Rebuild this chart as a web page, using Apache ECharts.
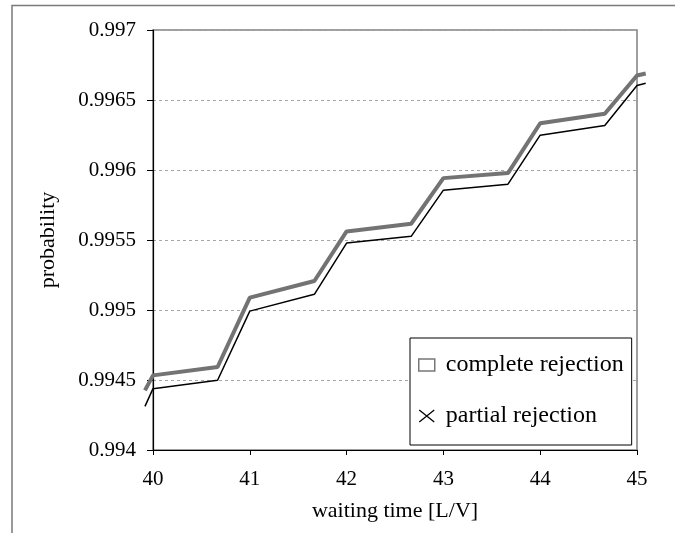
<!DOCTYPE html>
<html>
<head>
<meta charset="UTF-8"/>
<title>probability vs waiting time</title>
<script src="https://cdn.jsdelivr.net/npm/echarts@6/dist/echarts.min.js"></script>
<style>
  html, body { margin: 0; padding: 0; background: #fff; }
  #chart { width: 675px; height: 533px; }
</style>
</head>
<body>
<div id="chart"></div>
<script type="text/javascript">
// waiting time [L/V]; first and last points are where the lines leave the frame
var waitTimes = [39.917, 40, 40.667, 41, 41.667, 42, 42.667, 43, 43.667, 44, 44.667, 45, 45.09];
var completeRejection = [0.994426, 0.994533, 0.994593, 0.995088, 0.995207, 0.995561, 0.995616,
                         0.995942, 0.995978, 0.996334, 0.996402, 0.996675, 0.996689];
var partialRejection = [0.994312, 0.994438, 0.994498, 0.994992, 0.995112, 0.995478, 0.995526,
                        0.995856, 0.995899, 0.996249, 0.996318, 0.996604, 0.996620];
var seriesNames = ['complete rejection', 'partial rejection'];

var pairs = function (xs, ys) {
    var res = [];
    for (var i = 0; i < xs.length; i++) {
        res.push([xs[i], ys[i]]);
    }
    return res;
};

var serif = '"Liberation Serif", "Times New Roman", serif';
var myChart = echarts.init(document.getElementById('chart'));

// the drawn axis runs 40..45 over 484px; the lines overshoot it a little,
// so they sit on a hidden grid stretched to the same scale
var pxPerUnit = 484 / 5;
var xLo = waitTimes[0], xHi = waitTimes[waitTimes.length - 1];

var option = {
    backgroundColor: '#fff',
    animation: false,
    textStyle: { fontFamily: serif, color: '#000' },
    graphic: [{
        type: 'rect',
        z: -1,
        shape: { x: 12, y: 5.5, width: 700, height: 600 },
        style: { fill: 'none', stroke: '#7a7a7a', lineWidth: 1.5 }
    }],
    grid: [{
        left: 153, top: 30, width: 484, height: 420,
        show: true, borderColor: '#808080', borderWidth: 1.5,
        backgroundColor: 'transparent'
    }, {
        left: 153 - (40 - xLo) * pxPerUnit, top: 30,
        width: (xHi - xLo) * pxPerUnit, height: 420,
        show: false
    }],
    xAxis: [{
        type: 'value',
        min: 40, max: 45, interval: 1,
        name: 'waiting time [L/V]',
        nameLocation: 'middle',
        nameGap: 50,
        nameTextStyle: { fontFamily: serif, fontSize: 22, color: '#000' },
        axisLine: { onZero: false, lineStyle: { color: '#000', width: 1.2 } },
        axisTick: { show: true, length: 5, lineStyle: { color: '#000' } },
        axisLabel: { margin: 19, fontFamily: serif, fontSize: 21, color: '#000' },
        splitLine: { show: false }
    }, {
        type: 'value', gridIndex: 1, show: false,
        min: xLo, max: xHi
    }],
    yAxis: [{
        type: 'value',
        min: 0.994, max: 0.997, interval: 0.0005,
        name: 'probability',
        nameLocation: 'middle',
        nameGap: 94,
        nameTextStyle: { fontFamily: serif, fontSize: 22, color: '#000' },
        axisLine: { show: true, lineStyle: { color: '#000', width: 1.2 } },
        axisTick: { show: true, length: 6, lineStyle: { color: '#000' } },
        axisLabel: {
            margin: 17, fontFamily: serif, fontSize: 21, color: '#000',
            formatter: function (v) { return String(+v.toFixed(4)); }
        },
        splitLine: { show: true, lineStyle: { color: '#a6a6a6', type: [3, 3], width: 1 } }
    }, {
        type: 'value', gridIndex: 1, show: false,
        min: 0.994, max: 0.997
    }],
    legend: {
        orient: 'vertical',
        left: 410, top: 338,
        padding: [15, 8, 17, 8],
        itemGap: 27,
        itemWidth: 16,
        itemHeight: 12,
        borderColor: '#000',
        borderWidth: 1,
        backgroundColor: '#fff',
        z: 10,
        textStyle: { fontFamily: serif, fontSize: 24, color: '#000' },
        formatter: function (name) { return ' ' + name; },
        data: [
            { name: seriesNames[0], icon: 'rect',
              itemStyle: { color: 'transparent', borderColor: '#777', borderWidth: 1.5 } },
            { name: seriesNames[1], icon: 'path://M0,0L10,8M10,0L0,8',
              itemStyle: { color: 'transparent', borderColor: '#000', borderWidth: 1.3 } }
        ]
    },
    series: [
        {
            name: seriesNames[0],
            type: 'line',
            xAxisIndex: 1, yAxisIndex: 1,
            data: pairs(waitTimes, completeRejection),
            showSymbol: false,
            lineStyle: { color: '#737373', width: 4 },
            itemStyle: { color: '#737373' }
        },
        {
            name: seriesNames[1],
            type: 'line',
            xAxisIndex: 1, yAxisIndex: 1,
            data: pairs(waitTimes, partialRejection),
            showSymbol: false,
            lineStyle: { color: '#000', width: 1.5 },
            itemStyle: { color: '#000' }
        }
    ]
};
myChart.setOption(option);
</script>
</body>
</html>
